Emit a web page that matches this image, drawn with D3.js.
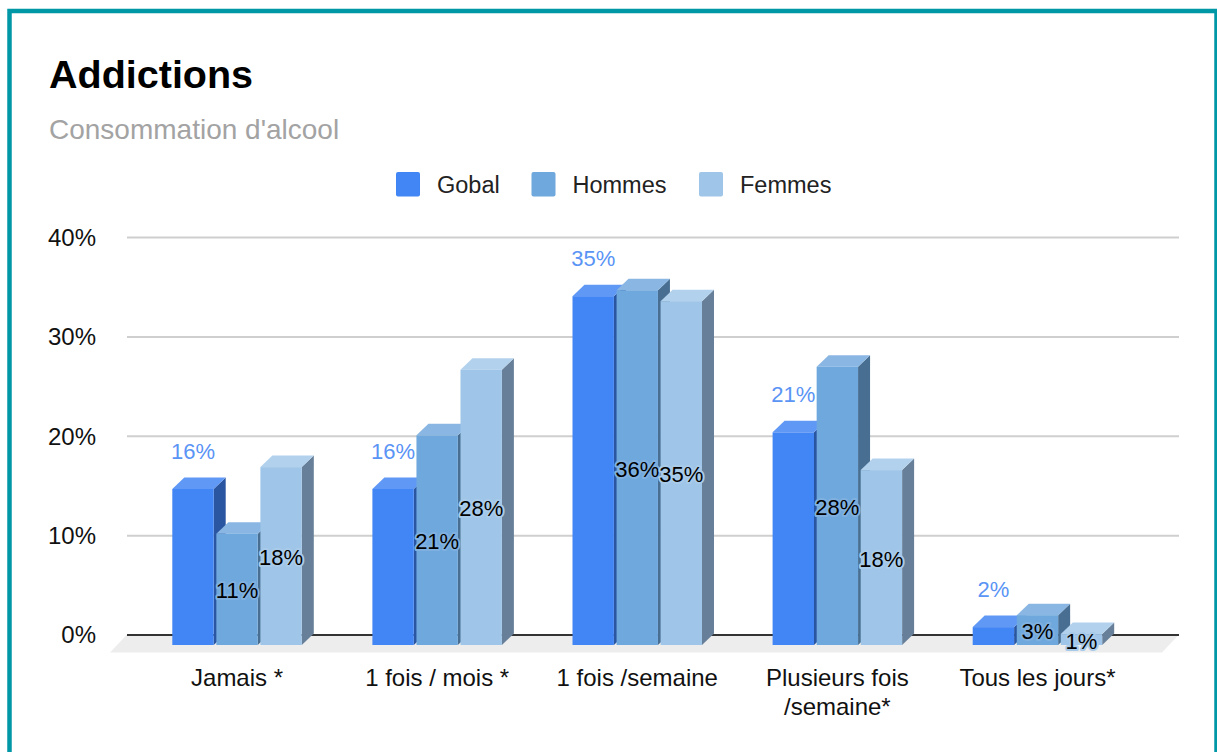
<!DOCTYPE html>
<html><head><meta charset="utf-8">
<script src="https://cdn.jsdelivr.net/npm/d3@7"></script>
<style>html,body{margin:0;padding:0;background:#fff}svg{display:block}text{font-family:"Liberation Sans",Arial,sans-serif}</style>
</head><body><svg id="c" width="1217" height="752"></svg>
<script>
const categories = ["Jamais *", "1 fois / mois *", "1 fois /semaine", "Plusieurs fois\n/semaine*", "Tous les jours*"];
const seriesNames = ["Gobal", "Hommes", "Femmes"];
const gobal  = [0.157, 0.157, 0.351, 0.214, 0.018];
const hommes = [0.112, 0.211, 0.357, 0.280, 0.030];
const femmes = [0.179, 0.277, 0.346, 0.176, 0.011];
const yTicks = [0, 0.1, 0.2, 0.3, 0.4];
const fronts = ["#4285f4", "#6fa8dc", "#9fc5e8"];
const tops   = ["#6098f6", "#8ab6e3", "#b2d1ed"];
const sides  = ["#2a55a0", "#486f91", "#677f98"];
const halos  = ["#4285f4", "#7fb0e0", "#a9cbea"];

const values = [gobal, hommes, femmes];
const svg = d3.select("#c");
const plot = {left: 127, right: 1179, top: 237, bottom: 634.5};
const depthX = 12, depthY = 11.5, floorY = 652.5;

// frame
svg.append("rect").attr("x", 9.5).attr("y", 11).attr("width", 1207).attr("height", 760)
  .attr("fill", "#fff").attr("stroke", "#0097a7").attr("stroke-width", 4.5);

svg.append("text").attr("x", 49).attr("y", 87.5).attr("font-size", 39.5).attr("font-weight", 700).attr("fill", "#000").text("Addictions");
svg.append("text").attr("x", 49).attr("y", 139).attr("font-size", 28).attr("fill", "#a3a3a3").text("Consommation d'alcool");

// legend
const legendX = [396, 531.5, 699];
const legend = svg.append("g").selectAll("g").data(seriesNames).join("g")
  .attr("transform", (d, i) => `translate(${legendX[i]},172)`);
legend.append("rect").attr("width", 24).attr("height", 24.5).attr("rx", 2).attr("fill", (d, i) => fronts[i]);
legend.append("text").attr("x", 41).attr("y", 20.5).attr("font-size", 23.5).attr("fill", "#222").text(d => d);

// scales (back plane)
const y = d3.scaleLinear().domain([0, 0.4]).range([plot.bottom, plot.top]);
const x = d3.scaleBand().domain(categories).range([137, 1137.5]).paddingInner(0).paddingOuter(0);
const inner = d3.scaleBand().domain(d3.range(3)).range([0, 129.5]).paddingInner(0.06).paddingOuter(0);

// floor
svg.append("path")
  .attr("d", d3.line()([[plot.left, plot.bottom], [plot.right, plot.bottom], [1162, floorY], [110, floorY]]) + "Z")
  .attr("fill", "#ededed");

// y axis + grid
const yAxis = d3.axisLeft(y).tickValues(yTicks).tickFormat(d3.format(".0%")).tickSize(plot.left - plot.right).tickPadding(0);
const gy = svg.append("g").attr("transform", `translate(${plot.right},0)`).call(yAxis);
gy.select(".domain").remove();
gy.selectAll("line").attr("stroke", d => d === 0 ? "#333" : "#cfcfcf").attr("stroke-width", 2)
  .attr("x1", 0).attr("x2", plot.left - plot.right);
gy.selectAll("text").attr("x", 96 - plot.right).attr("dy", "0.35em").attr("font-size", 24).attr("fill", "#111").attr("text-anchor", "end");

// bars
categories.forEach((cat, ci) => {
  const g = svg.append("g");
  const x0 = x(cat) + (x.bandwidth() - 129.5) / 2;
  values.forEach((vals, si) => {
    const bx = x0 + inner(si), bw = inner.bandwidth();
    const b = y(0) + depthY - 1;
    const t = y(vals[ci]) + depthY - 1;
    g.append("path").attr("fill", sides[si])
      .attr("d", d3.line()([[bx + bw, t], [bx + bw + depthX, t - depthY], [bx + bw + depthX, b - depthY], [bx + bw, b]]) + "Z");
    g.append("path").attr("fill", tops[si])
      .attr("d", d3.line()([[bx, t], [bx + depthX, t - depthY], [bx + bw + depthX, t - depthY], [bx + bw, t]]) + "Z");
    g.append("rect").attr("x", bx).attr("y", t).attr("width", bw).attr("height", b - t).attr("fill", fronts[si]);
  });
});

// data labels
const fmt = d3.format(".0%");
categories.forEach((cat, ci) => {
  const x0 = x(cat) + (x.bandwidth() - 129.5) / 2;
  values.forEach((vals, si) => {
    const cx = x0 + inner(si) + inner.bandwidth() / 2;
    const t = y(vals[ci]) + depthY - 1, b = y(0) + depthY - 1;
    const label = svg.append("text").attr("x", cx).attr("text-anchor", "middle").attr("font-size", 22).text(fmt(vals[ci]));
    if (si === 0) {
      label.attr("y", t - 38 + 8).attr("fill", "#5a94f5");
    } else {
      label.attr("y", (t + b) / 2 + 9).attr("fill", "#000")
        .attr("stroke", halos[si]).attr("stroke-width", 4).attr("stroke-linejoin", "round").attr("paint-order", "stroke");
    }
  });
});

// x labels
const xAxis = d3.axisBottom(x).tickSize(0).tickFormat("");
const gx = svg.append("g").attr("transform", "translate(0,670)").call(xAxis);
gx.select(".domain").remove();
gx.selectAll(".tick text").remove();
gx.selectAll(".tick").append("text").attr("text-anchor", "middle").attr("font-size", 24).attr("fill", "#111")
  .selectAll("tspan").data(d => d.split("\n")).join("tspan")
  .attr("x", 0).attr("y", (d, i) => 16 + i * 28.5).text(d => d);
</script></body></html>
